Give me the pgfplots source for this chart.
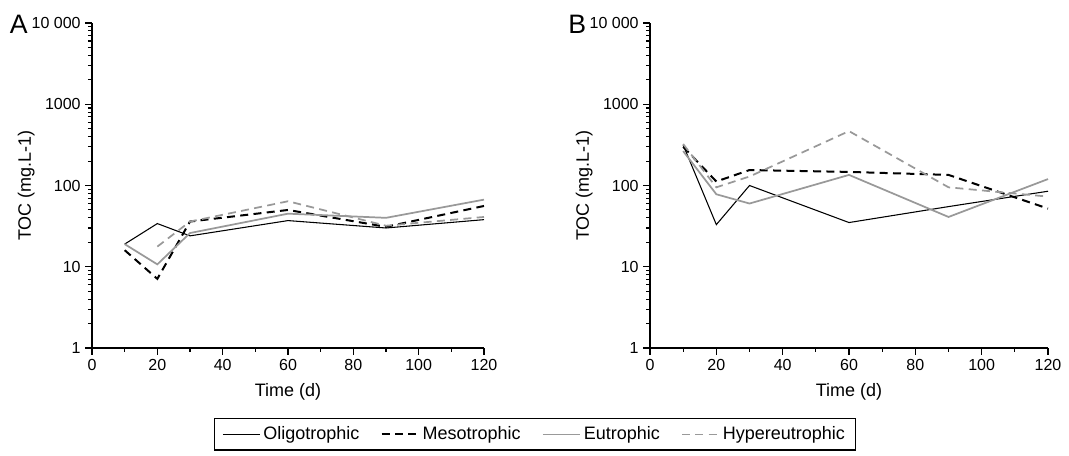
\documentclass[border=0pt]{standalone}
\usepackage{pgfplots}
\pgfplotsset{compat=1.18}
\usepackage{fontspec}
\setmainfont{Liberation Sans}
\definecolor{lgray}{HTML}{999999}

\pgfplotsset{
  tocaxis/.style={
    scale only axis,
    height=243.75pt,
    xmin=0, xmax=120, ymin=1, ymax=10000,
    axis lines=left,
    xtick={0,20,...,120}, minor x tick num=1,
    ytick={1,10,100,1000,10000},
    yticklabels={1,10,100,1000,10~000},
    tick align=outside,
    major tick length=5pt, minor tick length=3pt,
    tick style={black, line width=0.8pt},
    axis line style={-, line width=0.9pt},
    clip=false,
    /pgf/number format/assume math mode=true,
    ticklabel style={font=\fontsize{12}{14}\selectfont},
    label style={font=\fontsize{13.5}{16}\selectfont},
    xlabel={Time (d)}, ylabel={TOC (mg.L-1)},
    xlabel style={yshift=-3pt},
    ylabel style={yshift=-9pt},
  },
  oligo/.style={black, line width=0.8pt},
  meso/.style={black, line width=1.5pt, dash pattern=on 6pt off 4pt},
  eutro/.style={lgray, line width=1.3pt},
  hyper/.style={lgray, line width=1.3pt, dash pattern=on 6pt off 4pt},
}

\begin{document}
\begin{tikzpicture}
\useasboundingbox (0,0) rectangle (801.75pt,-342pt);

\begin{axis}[ymode=log, tocaxis, width=294pt, at={(69pt,-261pt)}, anchor=south west,
  legend columns=4,
  legend style={at={(1.130,-0.266)}, anchor=center, draw=black, line width=0.8pt,
    font=\fontsize{13.5}{16}\selectfont, inner xsep=6pt, inner ysep=4pt,
    /tikz/every even column/.append style={column sep=14pt}},
  legend image code/.code={\draw[#1] (0pt,0pt) -- (28pt,0pt);},
]
\addplot[oligo] coordinates {(10,19) (20,34) (30,24) (60,37) (90,30) (120,38)};
\addlegendentry{Oligotrophic}
\addplot[meso] coordinates {(10,16) (20,7.1) (30,36) (60,50) (90,31) (120,56)};
\addlegendentry{Mesotrophic}
\addplot[eutro] coordinates {(10,19) (20,10.7) (30,26) (60,45) (90,40) (120,67)};
\addlegendentry{Eutrophic}
\addplot[hyper] coordinates {(20,17.7) (30,36) (60,64) (90,32) (120,41)};
\addlegendentry{Hypereutrophic}
\end{axis}

\begin{axis}[ymode=log, tocaxis, width=298.5pt, at={(487.5pt,-261pt)}, anchor=south west]
\addplot[oligo] coordinates {(10,315) (20,33) (30,100) (60,35) (90,55) (120,85)};
\addplot[meso] coordinates {(10,300) (20,112) (30,155) (60,147) (90,135) (120,52)};
\addplot[eutro] coordinates {(10,265) (20,78) (30,60) (60,135) (90,41) (120,120)};
\addplot[hyper] coordinates {(10,324) (20,95) (30,129) (60,467) (90,95) (120,73)};
\end{axis}

\node[font=\fontsize{20}{22}\selectfont] at (14pt,-18pt) {A};
\node[font=\fontsize{20}{22}\selectfont] at (433pt,-18pt) {B};
\end{tikzpicture}
\end{document}
